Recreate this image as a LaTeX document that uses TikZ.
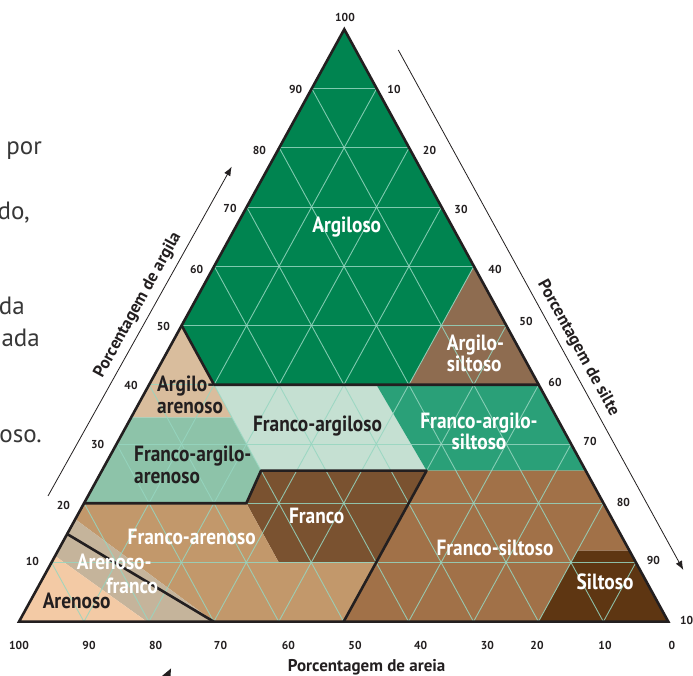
\documentclass[tikz,border=0pt]{standalone}
\usepackage{fontspec}
\setmainfont{PT Sans}
\newfontfamily\labfont[FakeStretch=0.88]{PT Sans}
\usetikzlibrary{arrows.meta}
\definecolor{cArg}{RGB}{0,132,80}
\definecolor{cArgSil}{RGB}{142,108,80}
\definecolor{cArgAre}{RGB}{217,189,157}
\definecolor{cFArg}{RGB}{197,224,210}
\definecolor{cFArgSil}{RGB}{42,160,120}
\definecolor{cFArgAre}{RGB}{141,195,169}
\definecolor{cFranco}{RGB}{122,82,48}
\definecolor{cFSil}{RGB}{161,113,72}
\definecolor{cSil}{RGB}{94,54,18}
\definecolor{cFAre}{RGB}{194,152,107}
\definecolor{cAreF}{RGB}{197,180,155}
\definecolor{cAre}{RGB}{243,202,165}
\definecolor{cGrid}{RGB}{150,214,192}
\definecolor{cInk}{RGB}{35,31,32}
\definecolor{cFrag}{RGB}{55,55,55}
\begin{document}
\begin{tikzpicture}[
  bline/.style={line width=2.6pt, draw=cInk, line cap=round, line join=round},
  gridl/.style={draw=cGrid, line width=0.9pt, opacity=0.85},
  lab/.style={font=\labfont\bfseries\fontsize{22}{23}\selectfont, inner sep=0pt, anchor=base},
  labw/.style={lab, text=white},
  labd/.style={lab, text=cInk},
  tick/.style={font=\bfseries\fontsize{11.5}{12}\selectfont, text=cInk, inner sep=0pt},
  axt/.style={font=\bfseries\fontsize{17}{18}\selectfont, text=cInk, inner sep=0pt},
  frag/.style={font=\fontsize{25}{27}\selectfont, text=cFrag, inner sep=0pt, anchor=base east},
  axarrow/.style={draw=cInk, line width=0.8pt, -{Latex[length=9pt,width=7pt]}}
]
\useasboundingbox (0pt,0pt) rectangle (693pt,676pt);
\fill[white] (0pt,0pt) rectangle (693pt,676pt);

% ---------- ternary diagram (t = silt %, c = clay %) ----------
\begin{scope}[shift={(19pt,54.3pt)}, x={(6.493pt,0pt)}, y={(3.253pt,5.924pt)}]
  \fill[cArg] (0,100) -- (0,50) -- (10,40) -- (40,40) -- (40,60) -- cycle;
  \fill[cArgSil] (40,60) -- (40,40) -- (60,40) -- cycle;
  \fill[cArgAre] (0,50) -- (10,40) -- (15.5,34.5) -- (0,34.5) -- cycle;
  \fill[cFArgAre] (0,34.5) -- (15.5,34.5) -- (24.5,25.5) -- (25,20) -- (0,20) -- cycle;
  \fill[cFArg] (10,40) -- (35,40) -- (50,25.5) -- (24.5,25.5) -- cycle;
  \fill[cFArgSil] (35,40) -- (60,40) -- (74.5,25.5) -- (50,25.5) -- cycle;
  \fill[cFranco] (24.5,25.5) -- (50,25.5) -- (50,10) -- (35,10) -- (25,20) -- cycle;
  \fill[cFSil] (50,25.5) -- (74.5,25.5) -- (88,12) -- (80,12) -- (80,0) -- (50,0) -- cycle;
  \fill[cSil] (80,0) -- (100,0) -- (88,12) -- (80,12) -- cycle;
  \fill[cFAre] (0,20) -- (25,20) -- (35,10) -- (50,10) -- (50,0) -- (30,0) -- (0,17.3) -- cycle;
  \fill[cAreF] (0,17.3) -- (30,0) -- (19.7,0) -- (0,11.1) -- cycle;
  \fill[cAre] (0,0) -- (19.7,0) -- (0,11.1) -- cycle;
  \begin{scope}
    \clip (0,0) -- (100,0) -- (0,100) -- cycle;
    \foreach \k in {10,20,...,90} {
      \draw[gridl] (0,\k) -- ({100-\k},\k);
      \draw[gridl] (\k,0) -- (\k,{100-\k});
      \draw[gridl] ({100-\k},0) -- (0,{100-\k});
    }
  \end{scope}
  \draw[bline] (0,50) -- (10,40) -- (60,40);
  \draw[bline] (0,20) -- (25,20) -- (24.5,25.5) -- (50,25.5) -- (50,0);
  \draw[bline] (0,14.8) -- (30,0);
  \draw[bline, line join=miter] (0,0) -- (100,0) -- (0,100) -- cycle;
\end{scope}

% ---------- texts in pixel coordinates ----------
\begin{scope}[x=1pt, y=-1pt, shift={(0pt,676pt)}]
  % region labels
  \node[labw] (argiloso) at (346.7,232.3) {Argiloso};
  \node[labw, anchor=base west] (argsil1) at (446.7,350.5) {Argilo-};
  \node[labw, anchor=base west] (argsil2) at (446.7,371.5) {siltoso};
  \node[labd, anchor=base west] (argare1) at (157,391.5) {Argilo-};
  \node[labd, anchor=base west] (argare2) at (157,413.3) {arenoso};
  \node[labd] (farg) at (317.5,431.7) {Franco-argiloso};
  \node[labw] (fargsil1) at (479,428.5) {Franco-argilo-};
  \node[labw] (fargsil2) at (479,450) {siltoso};
  \node[labd, anchor=base west] (fargare1) at (134,461.7) {Franco-argilo-};
  \node[labd, anchor=base west] (fargare2) at (134,483.3) {arenoso};
  \node[labw] (franco) at (316.7,523.3) {Franco};
  \node[labw] (fare) at (191.7,545) {Franco-arenoso};
  \node[labw] (fsil) at (495,556) {Franco-siltoso};
  \node[labw] (silt) at (605,589.3) {Siltoso};
  \node[labw] (aref1) at (114.2,569.3) {Arenoso-};
  \node[labw] (aref2) at (132.2,593.3) {franco};
  \node[labd] (are) at (76.7,608.3) {Arenoso};

  % clay ticks (left)
  \node[tick] (c100) at (345,17.3) {100};
  \node[tick] (c90) at (295.7,89.3) {90};
  \node[tick] (c80) at (259.3,150) {80};
  \node[tick] (c70) at (230,208.3) {70};
  \node[tick] (c60) at (196.7,269.3) {60};
  \node[tick] (c50) at (163.3,326) {50};
  \node[tick] (c40) at (131,385) {40};
  \node[tick] (c30) at (97.7,444) {30};
  \node[tick] (c20) at (63.3,505.7) {20};
  \node[tick] (c10) at (32.3,561) {10};
  % silt ticks (right)
  \node[tick] (s10) at (394,89.3) {10};
  \node[tick] (s20) at (429.5,150) {20};
  \node[tick] (s30) at (461,209) {30};
  \node[tick] (s40) at (495,269.3) {40};
  \node[tick] (s50) at (526,321.7) {50};
  \node[tick] (s60) at (555,382.7) {60};
  \node[tick] (s70) at (590,441) {70};
  \node[tick] (s80) at (623.3,502.3) {80};
  \node[tick] (s90) at (653.3,560.7) {90};
  \node[tick] (s100) at (690,620) {100};
  % sand ticks (bottom)
  \node[tick] (a100) at (19,645) {100};
  \node[tick] (a90) at (89,645) {90};
  \node[tick] (a80) at (155.7,645) {80};
  \node[tick] (a70) at (220.5,645) {70};
  \node[tick] (a60) at (288.3,645) {60};
  \node[tick] (a50) at (355,645) {50};
  \node[tick] (a40) at (420.7,645) {40};
  \node[tick] (a30) at (487.3,645) {30};
  \node[tick] (a20) at (537,645) {20};
  \node[tick] (a10) at (605,645) {10};
  \node[tick] (a0) at (672,645) {0};

  % axis titles
  \node[axt, anchor=base] (tareia) at (366.7,671.7) {Porcentagem de areia};
  \node[axt, rotate=61.2] (targila) at (138,305) {Porcentagem de argila};
  \node[axt, rotate=-61.2] (tsilte) at (578,348) {Porcentagem de silte};

  % axis arrows
  \coordinate (la0) at (48,496);
  \coordinate (la1) at (231.7,166.7);
  \coordinate (ra0) at (398.3,50);
  \coordinate (ra1) at (683.3,570);
  \draw[axarrow] (la0) -- (la1);
  \draw[axarrow] (ra0) -- (ra1);
  \fill[cInk] (162,676) -- (171,668.5) -- (170.5,676) -- cycle;

  % fragments of the neighbouring text column
  \node[frag] (f1) at (42,154.3) {por};
  \node[frag] (f2) at (30,220) {do,};
  \node[frag] (f3) at (25,315) {da};
  \node[frag] (f4) at (40,346.7) {ada};
  \node[frag] (f5) at (42,442.7) {oso.};
\end{scope}
\end{tikzpicture}
\end{document}
